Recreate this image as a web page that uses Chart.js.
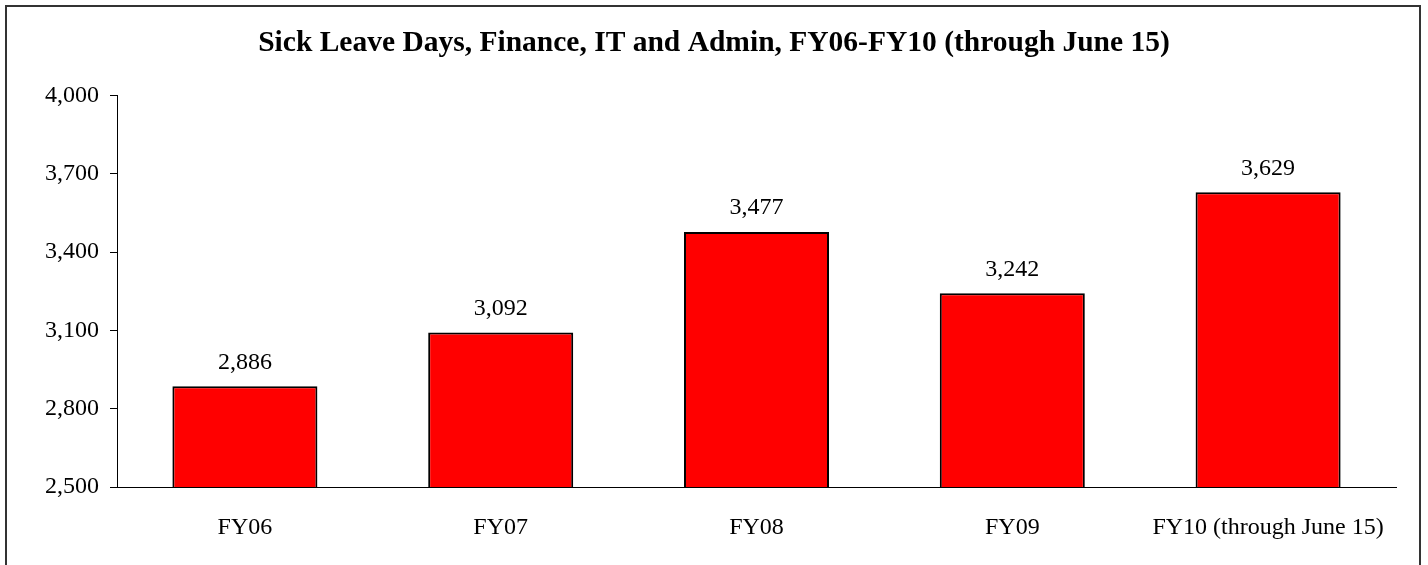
<!DOCTYPE html>
<html>
<head>
<meta charset="utf-8">
<title>Sick Leave Days</title>
<script src="https://cdn.jsdelivr.net/npm/chart.js@4/dist/chart.umd.min.js"></script>
<style>
    body {
        margin: 0;
        background: #fff;
        overflow: hidden;
    }
    #frame {
        position: absolute;
        left: 5px;
        top: 5px;
        width: 1412px;
        height: 600px;
        border: 2px solid #333;
    }
    #chart-wrap {
        position: absolute;
        left: 0;
        top: 0;
        width: 1428px;
        height: 565px;
    }
</style>
</head>
<body>
<div id="frame"></div>
<div id="chart-wrap"><canvas id="leave-chart" width="1428" height="565"></canvas></div>
<script>
// Chart data
const years = ['FY06', 'FY07', 'FY08', 'FY09', 'FY10 (through June 15)'];
const sickDays = [2886, 3092, 3477, 3242, 3629];
const yTicks = [2500, 2800, 3100, 3400, 3700, 4000];

const serif = "'Liberation Serif', 'Times New Roman', serif";

function fmt(v) {
    return Number(v).toLocaleString('en-US');
}

// Value labels above each bar
const barLabels = {
    id: 'barLabels',
    afterDatasetsDraw(chart) {
        const ctx = chart.ctx;
        const meta = chart.getDatasetMeta(0);
        ctx.save();
        ctx.font = '24px ' + serif;
        ctx.fillStyle = '#000';
        ctx.textAlign = 'center';
        ctx.textBaseline = 'middle';
        meta.data.forEach((bar, i) => {
            ctx.fillText(fmt(sickDays[i]), bar.x, bar.y - 24);
        });
        ctx.restore();
    }
};

const ctx = document.getElementById('leave-chart').getContext('2d');

const leaveChart = new Chart(ctx, {
    type: 'bar',
    data: {
        labels: years,
        datasets: [{
            label: 'Sick Leave Days',
            data: sickDays,
            backgroundColor: '#ff0000',
            borderColor: '#000',
            borderWidth: 2,
            categoryPercentage: 1,
            barPercentage: 0.567
        }]
    },
    options: {
        responsive: false,
        animation: false,
        layout: {
            padding: { top: 0, left: 32, right: 32, bottom: 23 }
        },
        plugins: {
            legend: { display: false },
            tooltip: { enabled: false },
            title: {
                display: true,
                text: 'Sick Leave Days, Finance, IT and Admin, FY06-FY10 (through June 15)',
                color: '#000',
                font: { family: serif, size: 29.5, weight: 'bold' },
                padding: { top: 26, bottom: 34 }
            }
        },
        scales: {
            x: {
                afterFit(scale) {
                    scale.height = 55;
                },
                grid: { display: false, drawTicks: false },
                border: { display: true, color: '#000', width: 1 },
                ticks: {
                    color: '#000',
                    padding: 26,
                    maxRotation: 0,
                    font: { family: serif, size: 24 }
                }
            },
            y: {
                min: 2500,
                max: 4000,
                afterBuildTicks(scale) {
                    scale.ticks = yTicks.map(v => ({ value: v }));
                },
                afterFit(scale) {
                    scale.width = 85;
                },
                grid: {
                    drawOnChartArea: false,
                    drawTicks: true,
                    tickLength: 7,
                    color: '#000'
                },
                border: { display: true, color: '#000', width: 1 },
                ticks: {
                    color: '#000',
                    padding: 11,
                    font: { family: serif, size: 24 },
                    callback: v => fmt(v)
                }
            }
        }
    },
    plugins: [barLabels]
});
</script>
</body>
</html>
